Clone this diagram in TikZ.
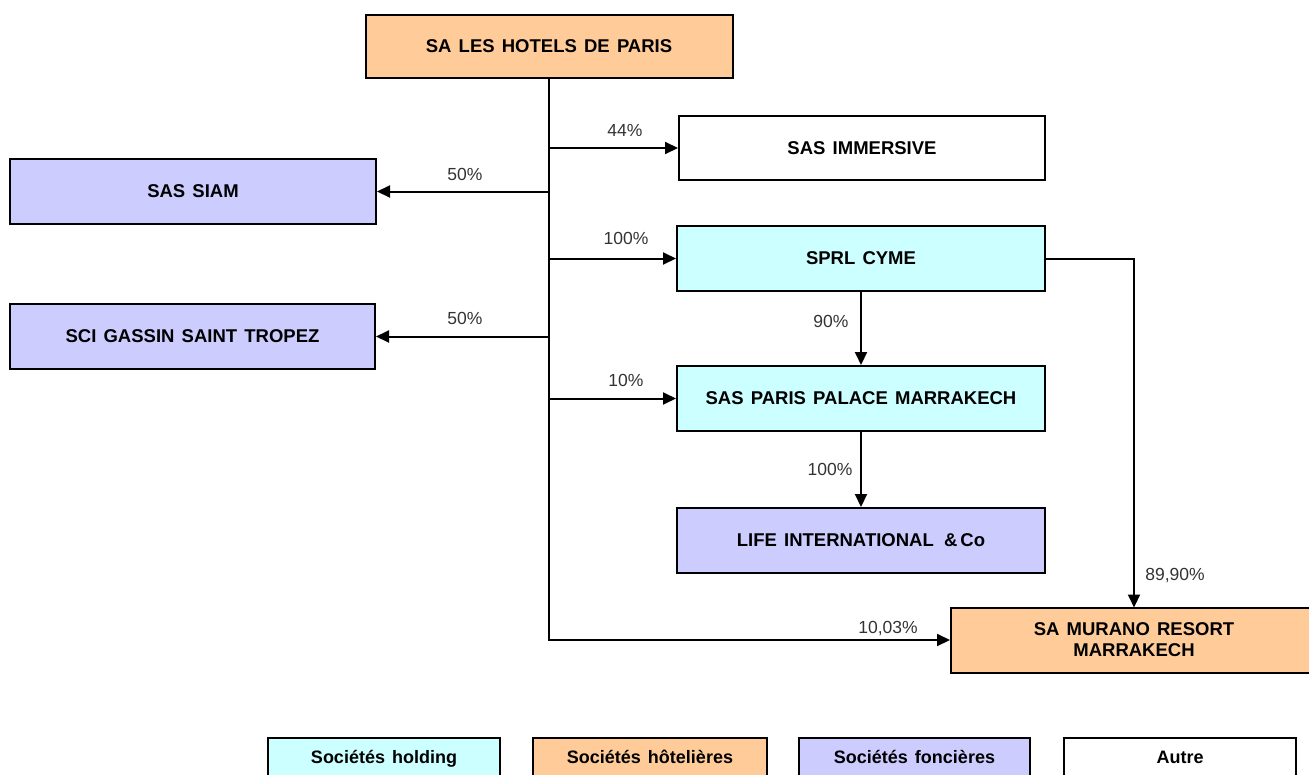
\documentclass[tikz,border=0pt]{standalone}
\usepackage{fontspec}
\setmainfont{Liberation Sans}
\newfontfamily\boxfont[WordSpace=1.5]{Liberation Sans}
\newfontfamily\legfont[WordSpace=1.4]{Liberation Sans}
\usetikzlibrary{arrows.meta}
\definecolor{peach}{HTML}{FFCC99}
\definecolor{lav}{HTML}{CCCCFF}
\definecolor{cyanl}{HTML}{CCFFFF}
\definecolor{lbl}{HTML}{333333}
\begin{document}
\begin{tikzpicture}[x=1pt,y=-1pt,
  box/.style={draw=black, line width=2pt, rectangle, inner sep=0pt,
    font=\boxfont\fontsize{18.5}{22}\selectfont\bfseries, align=center},
  holdbox/.style={box, fill=cyanl},
  hotbox/.style={box, fill=peach},
  fonbox/.style={box, fill=lav},
  othbox/.style={box, fill=white},
  legbox/.style={draw=black, line width=2pt, rectangle, inner sep=0pt,
    minimum height=38pt, text height=15pt, text depth=2pt,
    font=\legfont\fontsize{18}{20}\selectfont\bfseries},
  arr/.style={line width=2pt, -{Triangle[length=13pt,width=12pt]}},
  pct/.style={text=lbl, font=\fontsize{17.5}{20}\selectfont, inner sep=0pt}]
\useasboundingbox (0,0) rectangle (1309,774);
\clip (0,0) rectangle (1309,774);
% nodes
\node[hotbox, minimum width=367pt, minimum height=63pt] (hotels) at (549,46.5) {SA LES HOTELS DE PARIS};
\node[fonbox, minimum width=366pt, minimum height=65pt] (siam) at (193,191.5) {SAS SIAM};
\node[fonbox, minimum width=365pt, minimum height=65pt] (gassin) at (192.5,336.5) {SCI GASSIN SAINT TROPEZ};
\node[othbox, minimum width=366pt, minimum height=64pt] (immersive) at (862,148) {SAS IMMERSIVE};
\node[holdbox, minimum width=368pt, minimum height=65pt] (cyme) at (861,258.5) {SPRL CYME};
\node[holdbox, minimum width=368pt, minimum height=65pt] (palace) at (861,398.5) {SAS PARIS PALACE MARRAKECH};
\node[fonbox, minimum width=368pt, minimum height=65pt] (life) at (861,540.5) {LIFE INTERNATIONAL\hspace{3pt} \&\,Co};
\node[hotbox, minimum width=366pt, minimum height=65pt] (murano) at (1134,640) {SA MURANO RESORT\\[-1pt]MARRAKECH};
\coordinate (mtop) at (1134,607.5);
% connectors
\draw[arr] (hotels.south) |- (murano.west);
\draw[arr] (immersive.west -| hotels.south) -- (immersive.west);
\draw[arr] (cyme.west -| hotels.south) -- (cyme.west);
\draw[arr] (palace.west -| hotels.south) -- (palace.west);
\draw[arr] (siam.east -| hotels.south) -- (siam.east);
\draw[arr] (gassin.east -| hotels.south) -- (gassin.east);
\draw[arr] (cyme.south) -- (palace.north);
\draw[arr] (palace.south) -- (life.north);
\draw[arr] (cyme.east) -| (mtop);
% labels
\node[pct] (l1) at (625,130) {44\%};
\node[pct] (l2) at (465,174) {50\%};
\node[pct] (l3) at (626,238) {100\%};
\node[pct] (l4) at (465,318) {50\%};
\node[pct] (l5) at (626,380) {10\%};
\node[pct] (l6) at (831,321) {90\%};
\node[pct] (l7) at (830,469) {100\%};
\node[pct] (l8) at (1175,576) {89,90\%};
\node[pct] (l9) at (888,628) {10,03\%};
% legend
\node[legbox, fill=cyanl, minimum width=232pt] (lg1) at (384,757) {Sociétés holding};
\node[legbox, fill=peach, minimum width=234pt] (lg2) at (650,757) {Sociétés hôtelières};
\node[legbox, fill=lav, minimum width=231pt] (lg3) at (914.5,757) {Sociétés foncières};
\node[legbox, fill=white, minimum width=232pt] (lg4) at (1180,757) {Autre};
\end{tikzpicture}
\end{document}
